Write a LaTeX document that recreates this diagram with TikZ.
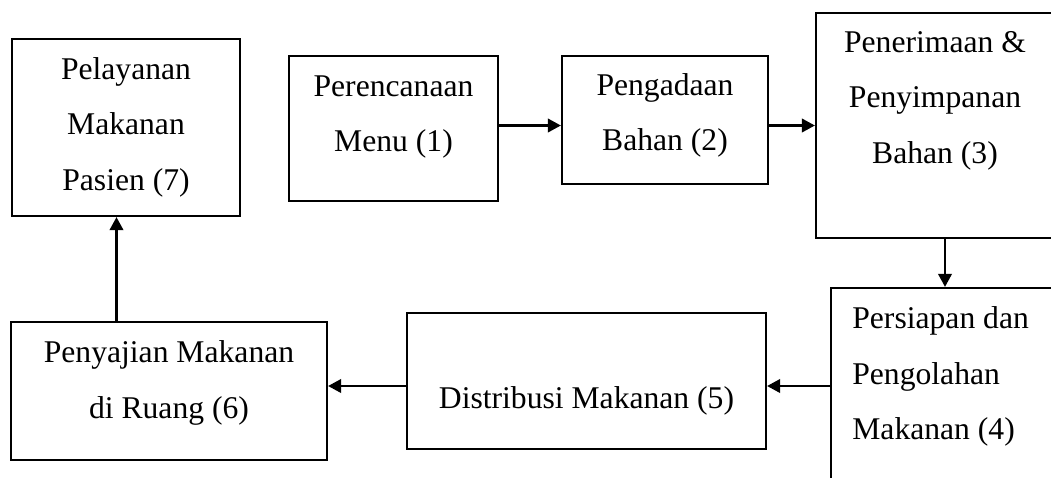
\documentclass[tikz,border=0pt]{standalone}
\usepackage{fontspec}
\setmainfont{Liberation Serif}
\usepackage{tikz}
\usetikzlibrary{arrows.meta,calc}

\begin{document}
\begin{tikzpicture}[x=0.02cm, y=-0.02cm, every node/.style={font=\fontsize{18}{31.6}\selectfont}, box/.style={rectangle, draw=black, line width=1.3pt, inner sep=0pt}, txt/.style={inner sep=0pt, align=center}, arr/.style={-{Triangle[length=0.26cm, width=0.27cm]}, line width=1.3pt}]
\useasboundingbox (0,0) rectangle (1051,477);
\clip (0,0) rectangle (1051,477);
\node[box, minimum width=4.56cm, minimum height=3.54cm] (b7) at (126,127.5) {};
\node[box, minimum width=4.18cm, minimum height=2.90cm] (b1) at (393.5,128.5) {};
\node[box, minimum width=4.12cm, minimum height=2.56cm] (b2) at (665,120) {};
\node[box, minimum width=5.16cm, minimum height=4.50cm] (b3) at (945,125.5) {};
\node[box, minimum width=4.78cm, minimum height=3.92cm] (b4) at (950.5,386) {};
\node[box, minimum width=7.18cm, minimum height=2.72cm] (b5) at (586.5,381) {};
\node[box, minimum width=6.32cm, minimum height=2.76cm] (b6) at (169,391) {};
\node[txt] (t7) at (126,127) {Pelayanan\\Makanan\\Pasien (7)};
\node[txt] (t1) at (393.5,117) {Perencanaan\\Menu (1)};
\node[txt] (t2) at (665,115.5) {Pengadaan\\Bahan (2)};
\node[txt] (t3) at (935,100.5) {Penerimaan \&\\Penyimpanan\\Bahan (3)};
\node[txt, anchor=west, align=left] (t4) at (852,376.5) {Persiapan dan\\Pengolahan\\Makanan (4)};
\node[txt, anchor=base] (t5) at (586.5,408) {Distribusi Makanan (5)};
\node[txt] (t6) at (169,383) {Penyajian Makanan\\di Ruang (6)};
\coordinate (s6) at ($(b6.north west)!0.335!(b6.north east)$);
\draw[arr] (b1.east |- b3.west) -- (b2.west |- b3.west); \draw[arr] (b2.east |- b3.west) -- (b3.west); \draw[arr] (b3.south) -- (b3.south |- b4.north); \draw[arr] (b4.west) -- (b4.west -| b5.east); \draw[arr] (b5.west |- b4.west) -- (b4.west -| b6.east); \draw[arr] (s6) -- (s6 |- b7.south);
\end{tikzpicture}
\end{document}
